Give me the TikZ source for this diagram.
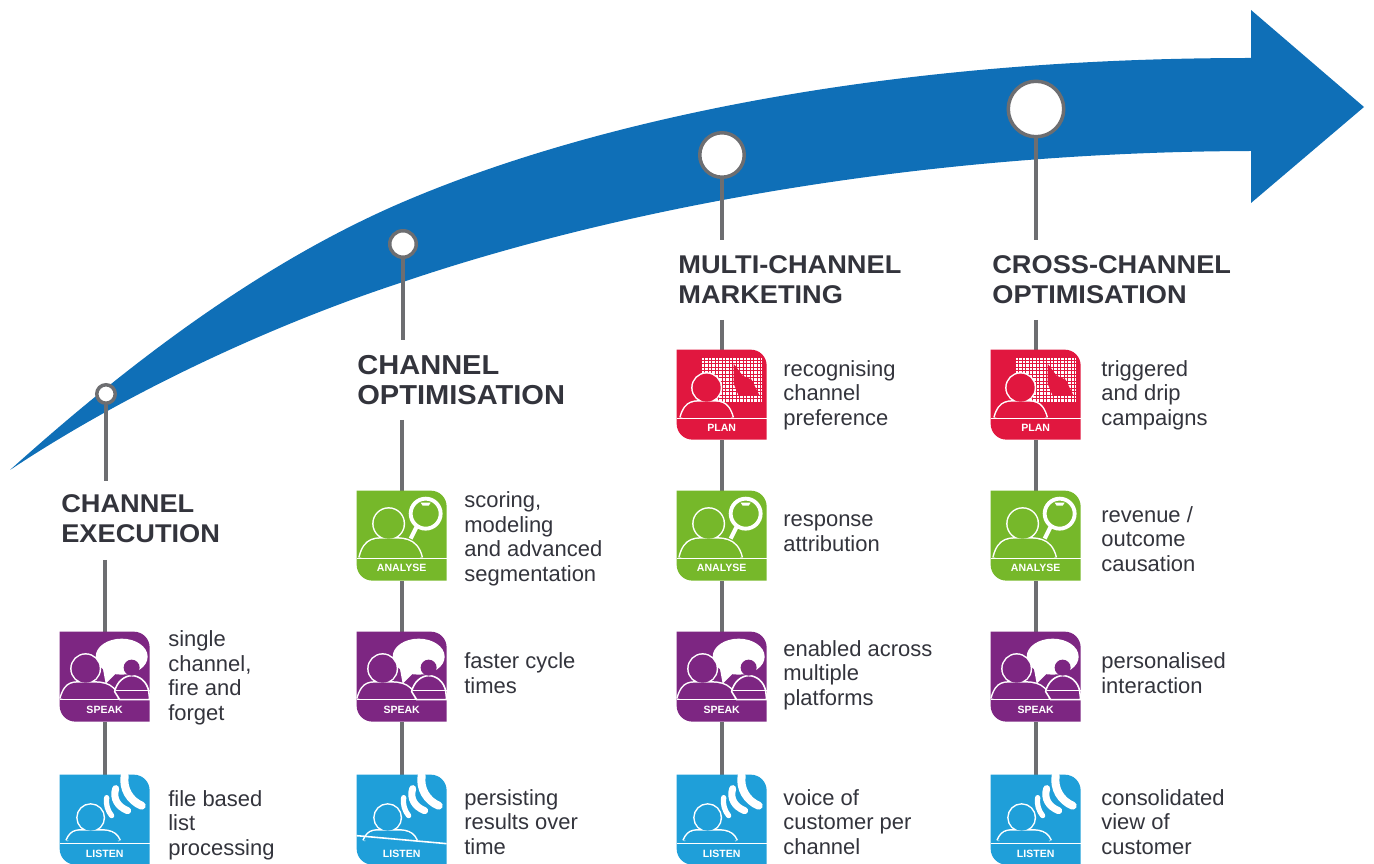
\documentclass[tikz,border=0pt]{standalone}
\usepackage{fontspec}
\setmainfont{Liberation Sans}
\newfontfamily\headfont[FakeStretch=1.06]{Liberation Sans}
\definecolor{ArrowColor}{HTML}{0F6FB7}
\definecolor{StemColor}{HTML}{6D6E71}
\definecolor{TextColor}{HTML}{33343C}
\definecolor{PlanColor}{HTML}{E1173F}
\definecolor{AnalyseColor}{HTML}{76B82A}
\definecolor{SpeakColor}{HTML}{7D2682}
\definecolor{ListenColor}{HTML}{1F9FD9}
\tikzstyle{dot}=[circle,
                   draw=StemColor,
                   fill=white,
                   line width=2pt,
                   inner sep=0pt]
\tikzstyle{stem}=[draw=StemColor, line width=2.6pt]
\tikzstyle{heading}=[anchor=north west,
                       align=left,
                       inner sep=0pt,
                       text=TextColor,
                       font=\fontsize{14.6}{17}\headfont\bfseries]
\tikzstyle{label}=[anchor=west,
                     align=left,
                     inner sep=0pt,
                     text=TextColor,
                     font=\fontsize{12.5}{14}\selectfont]
\tikzstyle{iconnode}=[rectangle,
                        inner sep=0pt,
                        minimum width=1.8cm,
                        minimum height=1.8cm]
\tikzstyle{tag}=[text=white,
                   inner sep=0pt,
                   font=\fontsize{6}{6}\selectfont\bfseries]
\tikzstyle{outline}=[draw=white, line width=0.9pt]
\tikzstyle{rim}=[draw=white, line width=1.7pt]
\newcommand{\iconbox}{(0,0) -- (74,0) .. controls (83,0) and (90,7) .. (90,16) -- (90,90) -- (16,90) .. controls (7,90) and (0,83) .. (0,74) -- cycle}
% head and shoulders as one outline
\newcommand{\person}[7]{%
  \draw[rim] (#2,#3) circle [radius=#4];
  \draw[rim] (#5,#7) .. controls (#5+5,#3+#4-2) and (#2-12,#3+#4) .. (#2,#3+#4) .. controls (#2+12,#3+#4) and (#6-5,#3+#4-2) .. (#6,#7);
  \fill[#1] (#2,#3) circle [radius=#4];
  \fill[#1] (#5,#7) .. controls (#5+5,#3+#4-2) and (#2-12,#3+#4) .. (#2,#3+#4) .. controls (#2+12,#3+#4) and (#6-5,#3+#4-2) .. (#6,#7) -- cycle;
}
\tikzset{
  planicon/.pic={
    \fill[PlanColor] \iconbox;
    \fill[white] (25,8) rectangle (85,52);
    \draw[PlanColor, line width=0.4pt, step=0.07cm] (25,8) grid (85,52);
    \fill[PlanColor] (57,14) -- (66,26) -- (75,30) -- (83,46) -- (62,46) -- (57,34) -- cycle;
    \person{PlanColor}{30}{38}{14}{4}{56}{68}
    \draw[outline] (0,69) -- (90,69);
    \node (-tag) [tag] at (45,78) {PLAN};
  },
  analyseicon/.pic={
    \fill[AnalyseColor] \iconbox;
    \person{AnalyseColor}{32}{33}{15}{3}{65}{67}
    \draw[draw=white, line width=2.4pt] (60,36) -- (54,48);
    \draw[draw=white, fill=AnalyseColor, line width=2.2pt] (69,23) circle [radius=15];
    \fill[white] (64,12) -- (74,12) -- (72,15) -- (66,15) -- cycle;
    \draw[outline] (0,68) -- (90,68);
    \node (-tag) [tag] at (45,77) {ANALYSE};
  },
  speakicon/.pic={
    \fill[SpeakColor] \iconbox;
    \fill[white] (62,25) ellipse [x radius=26, y radius=18];
    \fill[white] (42,30) -- (46,52) -- (60,38) -- cycle;
    \person{SpeakColor}{26}{37}{14}{1}{59}{67}
    \draw[outline, fill=SpeakColor] (55,60) .. controls (57,50) and (65,44) .. (72,44) .. controls (80,44) and (87,50) .. (89,59) -- (90,68) -- (60,68) -- cycle;
    \fill[SpeakColor] (72,36) circle [radius=8];
    \draw[outline] (56,59) -- (90,59);
    \draw[outline] (0,68) -- (90,68);
    \node (-tag) [tag] at (45,78) {SPEAK};
  },
  pics/listenicon/.style={code={
    \fill[ListenColor] \iconbox;
    \person{ListenColor}{31}{43}{13}{7}{60}{66}
    \draw[draw=white, line width=3pt, line cap=round] (47,23) .. controls (46,30) and (48,36) .. (52,41);
    \draw[draw=white, line width=4pt, line cap=round] (56,14) .. controls (53,24) and (58,32) .. (68,36);
    \draw[draw=white, line width=4.6pt, line cap=round] (65,1) .. controls (63,14) and (70,26) .. (82,31);
    \draw[outline] (0,#1) -- (90,69);
    \node (-tag) [tag] at (45,79) {LISTEN};
  }},
  pics/listenicon/.default=69
}

\begin{document}
\begin{tikzpicture}[x=0.02cm, y=-0.02cm]
    \useasboundingbox (0,0) rectangle (1374,864);

    % Arrow
    % --------------------------------------------------------------------------
    \fill[ArrowColor] (10,470) .. controls (140,353) and (270,259) .. (403,202)
                      .. controls (590,122) and (880,58) .. (1251,58)
                      -- (1251,10) -- (1364,107) -- (1251,203) -- (1251,151)
                      .. controls (900,152) and (600,215) .. (403,282)
                      .. controls (280,322) and (130,390) .. (10,470) -- cycle;

    % Steps
    % --------------------------------------------------------------------------
    \node at (106, 394) (dot_exec)  [dot, minimum size=0.37cm] {};
    \node at (403, 244) (dot_opt)   [dot, minimum size=0.53cm] {};
    \node at (722, 155) (dot_multi) [dot, minimum size=0.89cm] {};
    \node at (1036,109) (dot_cross) [dot, minimum size=1.11cm] {};

    \node at (61,  494) (head_exec)  [heading] {CHANNEL\\EXECUTION};
    \node at (357, 355) (head_opt)   [heading, font=\fontsize{15.6}{17}\headfont\bfseries] {CHANNEL\\OPTIMISATION};
    \node at (678, 255) (head_multi) [heading] {MULTI-CHANNEL\\MARKETING};
    \node at (992, 255) (head_cross) [heading] {CROSS-CHANNEL\\OPTIMISATION};

    \node at (722, 395) (plan_multi) [iconnode] {};
    \node at (1036,395) (plan_cross) [iconnode] {};

    \node at (402, 536) (analyse_opt)   [iconnode] {};
    \node at (722, 536) (analyse_multi) [iconnode] {};
    \node at (1036,536) (analyse_cross) [iconnode] {};

    \node at (105, 677) (speak_exec)  [iconnode] {};
    \node at (402, 677) (speak_opt)   [iconnode] {};
    \node at (722, 677) (speak_multi) [iconnode] {};
    \node at (1036,677) (speak_cross) [iconnode] {};

    \node at (105, 820) (listen_exec)  [iconnode] {};
    \node at (402, 820) (listen_opt)   [iconnode] {};
    \node at (722, 820) (listen_multi) [iconnode] {};
    \node at (1036,820) (listen_cross) [iconnode] {};

    % Stems
    % --------------------------------------------------------------------------
    \draw[stem] (dot_exec)  -- (dot_exec |- 0,481);
    \draw[stem] (dot_opt)   -- (dot_opt |- 0,340);
    \draw[stem] (dot_multi) -- (dot_multi |- 0,240);
    \draw[stem] (dot_cross) -- (dot_cross |- 0,240);

    \draw[stem] (speak_exec |- 0,560)  -- (speak_exec);
    \draw[stem] (analyse_opt |- 0,420) -- (analyse_opt);
    \draw[stem] (plan_multi |- 0,320)  -- (plan_multi);
    \draw[stem] (plan_cross |- 0,320)  -- (plan_cross);

    \draw[stem] (plan_multi) -- (analyse_multi);
    \draw[stem] (plan_cross) -- (analyse_cross);
    \draw[stem] (analyse_opt) -- (speak_opt);
    \draw[stem] (analyse_multi) -- (speak_multi);
    \draw[stem] (analyse_cross) -- (speak_cross);
    \draw[stem] (speak_exec) -- (listen_exec);
    \draw[stem] (speak_opt) -- (listen_opt);
    \draw[stem] (speak_multi) -- (listen_multi);
    \draw[stem] (speak_cross) -- (listen_cross);

    % Icons
    % --------------------------------------------------------------------------
    \pic (icon_plan_multi) at (plan_multi.north west) {planicon};
    \pic (icon_plan_cross) at (plan_cross.north west) {planicon};

    \pic (icon_analyse_opt)   at (analyse_opt.north west)   {analyseicon};
    \pic (icon_analyse_multi) at (analyse_multi.north west) {analyseicon};
    \pic (icon_analyse_cross) at (analyse_cross.north west) {analyseicon};

    \pic (icon_speak_exec)  at (speak_exec.north west)  {speakicon};
    \pic (icon_speak_opt)   at (speak_opt.north west)   {speakicon};
    \pic (icon_speak_multi) at (speak_multi.north west) {speakicon};
    \pic (icon_speak_cross) at (speak_cross.north west) {speakicon};

    \pic (icon_listen_exec)  at (listen_exec.north west)  {listenicon};
    \pic (icon_listen_opt)   at (listen_opt.north west)   {listenicon=61};
    \pic (icon_listen_multi) at (listen_multi.north west) {listenicon};
    \pic (icon_listen_cross) at (listen_cross.north west) {listenicon};

    % Labels
    % --------------------------------------------------------------------------
    \node at (783, 395) (text_plan_multi) [label] {recognising\\channel\\preference};
    \node at (1101,395) (text_plan_cross) [label] {triggered\\and drip\\campaigns};

    \node at (464, 539) (text_analyse_opt)   [label] {scoring,\\modeling\\and advanced\\segmentation};
    \node at (783, 533) (text_analyse_multi) [label] {response\\attribution};
    \node at (1101,539) (text_analyse_cross) [label] {revenue /\\outcome\\causation};

    \node at (168, 678) (text_speak_exec)  [label] {single\\channel,\\fire and\\forget};
    \node at (464, 673) (text_speak_opt)   [label] {faster cycle\\times};
    \node at (783, 675) (text_speak_multi) [label] {enabled across\\multiple\\platforms};
    \node at (1101,673) (text_speak_cross) [label] {personalised\\interaction};

    \node at (168, 825) (text_listen_exec)  [label] {file based\\list\\processing};
    \node at (464, 822) (text_listen_opt)   [label] {persisting\\results over\\time};
    \node at (783, 822) (text_listen_multi) [label] {voice of\\customer per\\channel};
    \node at (1101,822) (text_listen_cross) [label] {consolidated\\view of\\customer};
  \end{tikzpicture}
\end{document}
